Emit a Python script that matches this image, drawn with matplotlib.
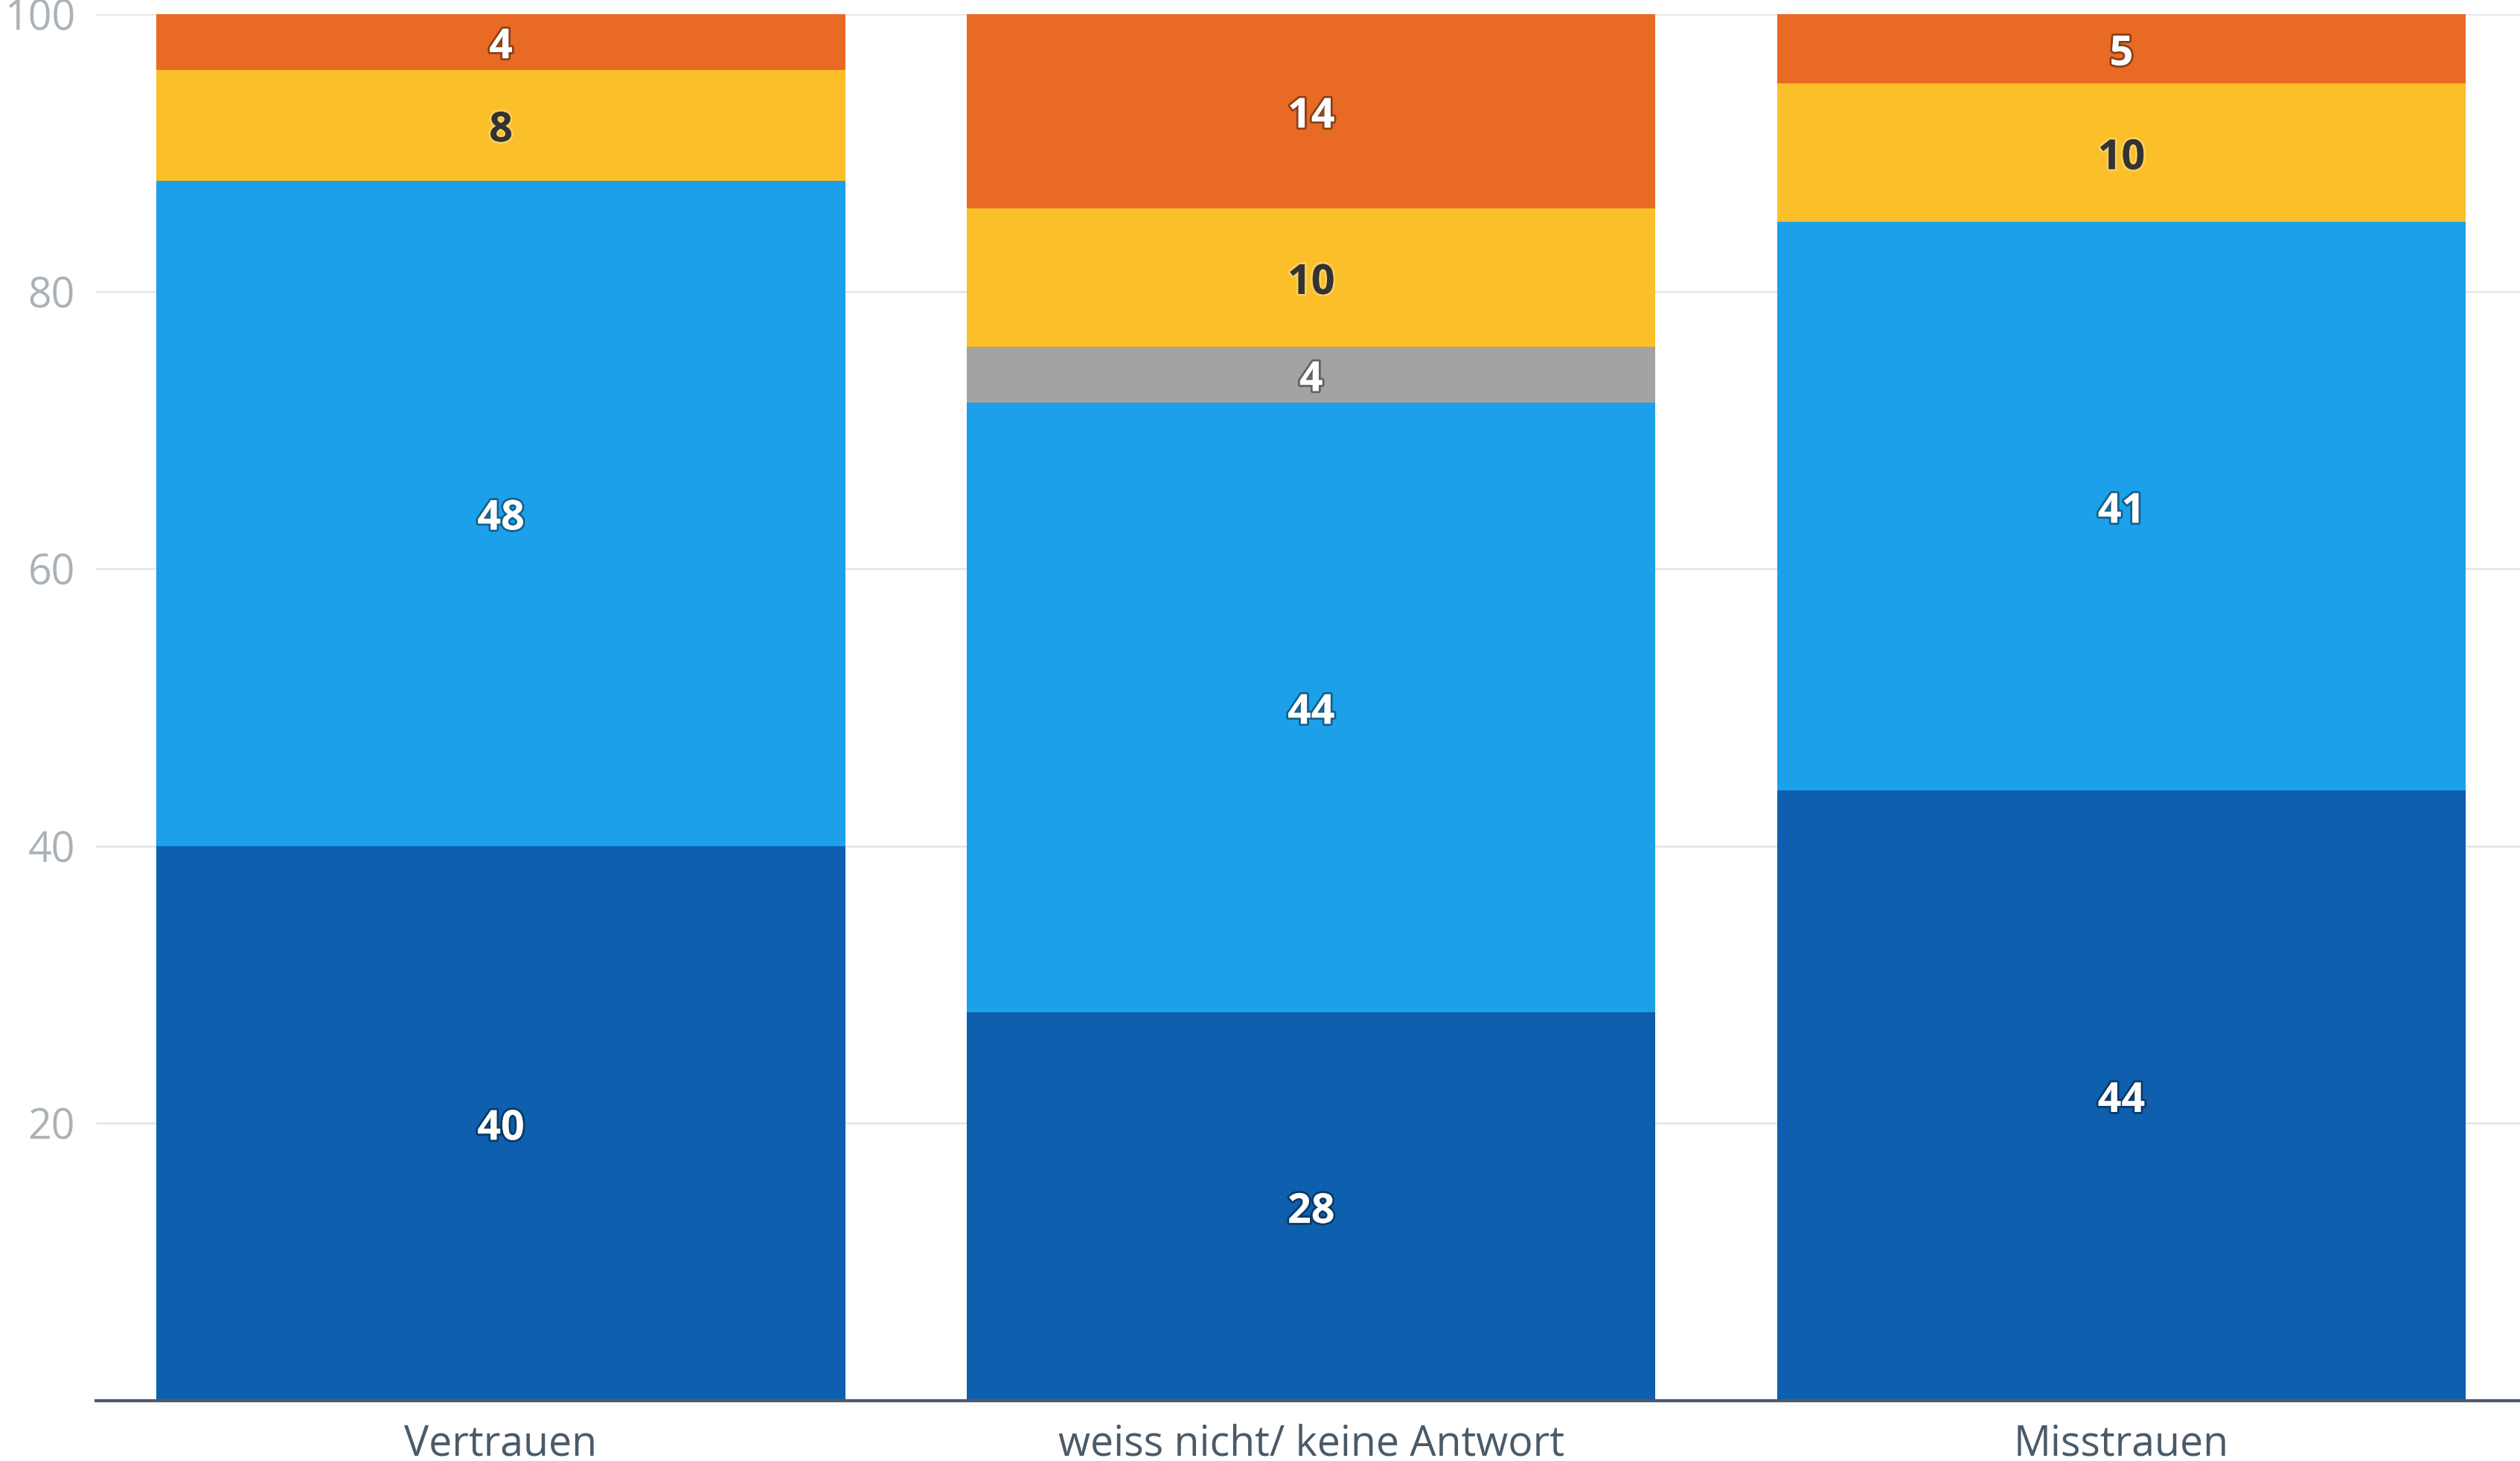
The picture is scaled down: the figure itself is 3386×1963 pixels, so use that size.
import matplotlib
matplotlib.use('Agg')
import matplotlib.pyplot as plt
import matplotlib.patheffects as pe
import numpy as np

plt.rcParams['font.family'] = ['Open Sans', 'DejaVu Sans']

# Data (percent)
categories = ['Vertrauen', 'weiss nicht/ keine Antwort', 'Misstrauen']
series_dark_blue = [40, 28, 44]
series_light_blue = [48, 44, 41]
series_gray = [0, 4, 0]
series_yellow = [8, 10, 10]
series_orange = [4, 14, 5]

stack = [series_dark_blue, series_light_blue, series_gray, series_yellow, series_orange]
colors = ['#0e5fad', '#1da0ea', '#a3a3a3', '#fbbf2a', '#e86a24']
label_colors = ['white', 'white', 'white', '#333333', 'white']

fig = plt.figure(figsize=(33.87, 19.63), dpi=100)
ax = fig.add_axes([0.0380, 0.0413, 0.9643, 0.949])

x = np.arange(len(categories))
bottom = np.zeros(len(categories))
for vals, col, lcol in zip(stack, colors, label_colors):
    vals = np.array(vals, dtype=float)
    ax.bar(x, vals, bottom=bottom, width=0.85, color=col, zorder=3)
    for xi, v, b in zip(x, vals, bottom):
        if v <= 0:
            continue
        if lcol == 'white':
            effects = [pe.withStroke(linewidth=4, foreground=(0, 0, 0, 0.4))]
        else:
            effects = [pe.withStroke(linewidth=4, foreground=(1, 1, 1, 0.25))]
        ax.text(xi, b + v / 2 - 0.4, f'{int(v)}', ha='center', va='center',
                fontsize=40, fontweight='bold', color=lcol,
                path_effects=effects, zorder=5)
    bottom += vals

ax.set_xlim(-0.5, 2.5)
ax.set_ylim(0, 100)
ax.set_yticks([20, 40, 60, 80, 100])
ax.yaxis.grid(True, color='#e6e6e6', linewidth=2, zorder=0)
ax.set_axisbelow(True)

for side in ['top', 'right', 'left']:
    ax.spines[side].set_visible(False)
ax.spines['bottom'].set_color('#4b5b6b')
ax.spines['bottom'].set_linewidth(3)
ax.spines['bottom'].set_zorder(6)

ax.set_xticks(x)
ax.set_xticklabels(categories)
ax.tick_params(axis='x', length=0, pad=22, labelsize=40, labelcolor='#4a5a68')
ax.tick_params(axis='y', length=0, pad=20, labelsize=40, labelcolor='#aab2b8')

fig.savefig('out.png', dpi=100)
